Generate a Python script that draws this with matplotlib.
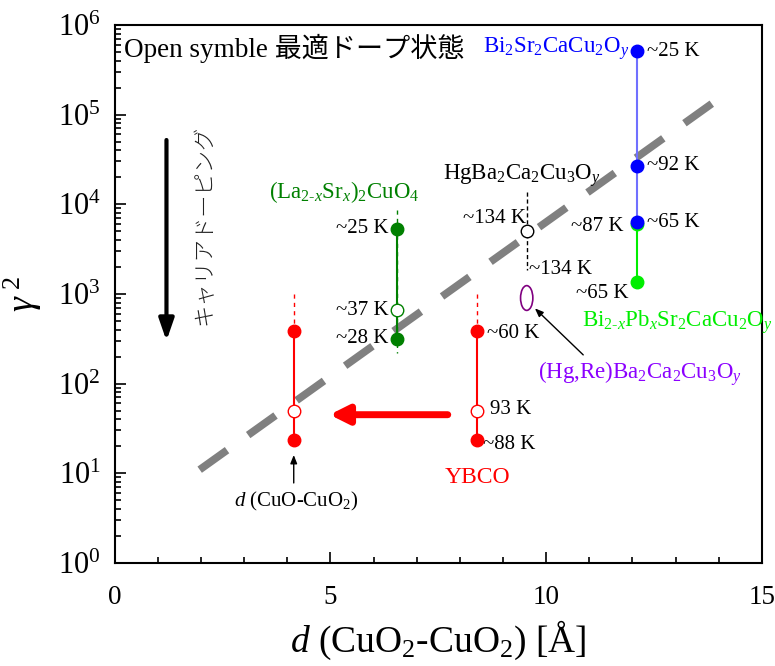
import numpy as np
import matplotlib.pyplot as plt
from matplotlib.patches import Ellipse

plt.rcParams['font.family'] = ['Liberation Serif', 'Noto Sans CJK JP']
plt.rcParams['mathtext.fontset'] = 'custom'
plt.rcParams['mathtext.rm'] = 'Liberation Serif'
plt.rcParams['mathtext.it'] = 'Liberation Serif:italic'

# interlayer spacing d (Å) and anisotropy gamma^2 for each cuprate family
bi2212_d = 12.1
bi2212_g2 = [5.1e5, 2.7e4, 6.3e3]          # ~25 K, ~92 K, ~65 K
bipb_d = 12.1
bipb_g2 = [6.0e3, 1.36e3]                  # ~87 K, ~65 K
lsco_d = 6.54
lsco_g2 = [5.3e3, 660, 315]                # ~25 K, ~37 K (opt), ~28 K
hg1223_d = 9.55
hg1223_g2 = 5.0e3                          # ~134 K (opt)
hgre_d = 9.55
hgre_g2 = 900
ybco_d = [8.39, 4.15]                      # CuO2-CuO2, CuO-CuO2
ybco_g2 = [385, 49, 23.5]                  # ~60 K, 93 K (opt), ~88 K

# guide line: log10(gamma^2) = a + b*d
guide_d = np.array([1.97, 14.07])
guide_logg2 = np.array([1.04, 5.2])

fig = plt.figure(figsize=(7.75, 6.66), dpi=100)
ax = fig.add_axes([0.148, 0.1547, 0.835, 0.808])
ax.set_xlim(0, 15)
ax.set_ylim(1, 1e6)
ax.set_yscale('log')

ax.plot(guide_d, 10 ** guide_logg2, color='#808080', lw=5.5, dashes=(4.4, 3.4), zorder=1)

ms = 9
# Bi2Sr2CaCu2Oy
ax.plot([bi2212_d] * 3, bi2212_g2, color='#7070ff', lw=1.5, zorder=2)
ax.plot([bi2212_d] * 3, bi2212_g2, 'o', color='blue', ms=ms, zorder=4)
# Bi2-xPbxSr2CaCu2Oy
ax.plot([bipb_d] * 2, bipb_g2, color='#00ee00', lw=1.5, zorder=2)
ax.plot([bipb_d] * 2, bipb_g2, 'o', color='#00ee00', ms=ms, zorder=3)
# (La2-xSrx)2CuO4
ax.plot([lsco_d, lsco_d], [8.6e3, 220], color='green', lw=1, ls=(0, (3, 3)), zorder=2)
ax.plot([lsco_d] * 3, lsco_g2, color='green', lw=1.5, zorder=2)
ax.plot([lsco_d] * 2, [lsco_g2[0], lsco_g2[2]], 'o', color='green', ms=ms, zorder=4)
ax.plot(lsco_d, lsco_g2[1], 'o', mfc='white', mec='green', ms=ms, zorder=4)
# HgBa2Ca2Cu3Oy
ax.plot([hg1223_d, hg1223_d], [1.37e4, 1.85e3], color='black', lw=1, ls=(0, (3, 2)), zorder=2)
ax.plot(hg1223_d, hg1223_g2, 'o', mfc='white', mec='black', ms=ms, zorder=4)
# (Hg,Re)Ba2Ca2Cu3Oy: open ellipse, sized in axes units so the log scale does not squash it
hgre_xy = ax.transAxes.inverted().transform(ax.transData.transform((hgre_d, hgre_g2)))
ax.add_patch(Ellipse(hgre_xy, 0.019, 0.046, transform=ax.transAxes,
                     fill=False, edgecolor='purple', lw=1.2, zorder=3))
# YBCO, both spacings
for d in ybco_d:
    ax.plot([d, d], [1.0e3, ybco_g2[0]], color='red', lw=1, ls=(0, (3, 3)), zorder=2)
    ax.plot([d] * 3, ybco_g2, color='red', lw=1.5, zorder=2)
    ax.plot([d] * 2, [ybco_g2[0], ybco_g2[2]], 'o', color='red', ms=ms, zorder=4)
    ax.plot(d, ybco_g2[1], 'o', mfc='white', mec='red', ms=ms, zorder=4)

# arrows
ax.annotate('', xy=(4.98, 45), xytext=(7.72, 45),
            arrowprops=dict(arrowstyle='-|>,head_length=1.1,head_width=0.55', color='red',
                            lw=5, shrinkA=0, shrinkB=0))
ax.annotate('', xy=(1.2, 300), xytext=(1.2, 5.2e4),
            arrowprops=dict(arrowstyle='-|>,head_length=1.3,head_width=0.45', color='black',
                            lw=3, shrinkA=0, shrinkB=0))
ax.annotate('', xy=(ybco_d[1], 16), xytext=(ybco_d[1], 7.8),
            arrowprops=dict(arrowstyle='-|>,head_length=0.5,head_width=0.2', color='black',
                            lw=1, shrinkA=0, shrinkB=0))
ax.annotate('', xy=(9.74, 690), xytext=(10.86, 209),
            arrowprops=dict(arrowstyle='-|>,head_length=0.5,head_width=0.2', color='black',
                            lw=1, shrinkA=0, shrinkB=0))

fs = 15
ax.text(0.22, 5.5e5, 'Open symble 最適ドープ状態', fontsize=19.5, va='center')
ax.text(2.09, 5.9e3, 'キャリアドーピング', fontsize=16, rotation=90, va='center', ha='center',
        family=['Noto Sans CJK JP'], fontweight='light', color='#222222')

ax.text(11.92, 5.4e5, r'Bi$_2$Sr$_2$CaCu$_2$O$_y$', color='blue', fontsize=16.5,
        ha='right', va='center')
ax.text(12.35, 5.1e5, '~25 K', fontsize=fs, va='center')
ax.text(12.35, 2.7e4, '~92 K', fontsize=fs, va='center')
ax.text(12.35, 6.2e3, '~65 K', fontsize=fs, va='center')
ax.text(11.8, 5.6e3, '~87 K', fontsize=fs, va='center', ha='right')
ax.text(11.9, 1.0e3, '~65 K', fontsize=fs, va='center', ha='right')
ax.text(10.83, 4.9e2, r'Bi$_{2\text{-}x}$Pb$_x$Sr$_2$CaCu$_2$O$_y$', color='#00ee00',
        fontsize=16.5, va='center')

ax.text(5.33, 1.37e4, r'(La$_{2\text{-}x}$Sr$_x$)$_2$CuO$_4$', color='green',
        fontsize=16.5, ha='center', va='center')
ax.text(lsco_d - 0.2, lsco_g2[0], '~25 K', fontsize=fs, ha='right', va='center')
ax.text(lsco_d - 0.2, lsco_g2[1], '~37 K', fontsize=fs, ha='right', va='center')
ax.text(lsco_d - 0.2, lsco_g2[2], '~28 K', fontsize=fs, ha='right', va='center')

ax.text(11.25, 2.1e4, r'HgBa$_2$Ca$_2$Cu$_3$O$_y$', fontsize=16.5, ha='right', va='center')
ax.text(hg1223_d - 0.02, 7.0e3, '~134 K', fontsize=fs, ha='right', va='center')
ax.text(hg1223_d + 0.05, 1.85e3, '~134 K', fontsize=fs, ha='left', va='center')
ax.text(9.81, 1.3e2, r'(Hg,Re)Ba$_2$Ca$_2$Cu$_3$O$_y$', color='#8b00ff', fontsize=16.5,
        ha='left', va='center')

ax.text(8.63, 366, '~60 K', fontsize=fs, va='center')
ax.text(8.70, 51, '93 K', fontsize=fs, va='center')
ax.text(8.54, 20.7, '~88 K', fontsize=fs, va='center')
ax.text(8.4, 8.9, 'YBCO', color='red', fontsize=17, ha='center', va='center')
ax.text(4.2, 4.8, r'$d$ (CuO-CuO$_2$)', fontsize=15, ha='center', va='center')

ax.set_xticks([0, 5, 10, 15])
ax.set_xticks(np.arange(0, 16, 1), minor=True)
ax.set_yticks([10.0 ** k for k in range(7)])
ax.set_yticklabels([r'$10^{%d}$' % k for k in range(7)])
ax.tick_params(which='both', direction='in', top=False, right=False)
ax.tick_params(which='major', length=8, width=1.2)
ax.tick_params(which='minor', length=4, width=1.2)
ax.tick_params(axis='x', labelsize=19.5, pad=16)
ax.tick_params(axis='y', labelsize=22, pad=10)
for sp in ax.spines.values():
    sp.set_linewidth(1.5)

ax.set_xlabel(r'$d$ (CuO$_2$-CuO$_2$) [Å]', fontsize=27, labelpad=6)
ax.set_ylabel(r'$\gamma^{\ 2}$', fontsize=27, labelpad=10)

fig.savefig('out.png', dpi=100)
